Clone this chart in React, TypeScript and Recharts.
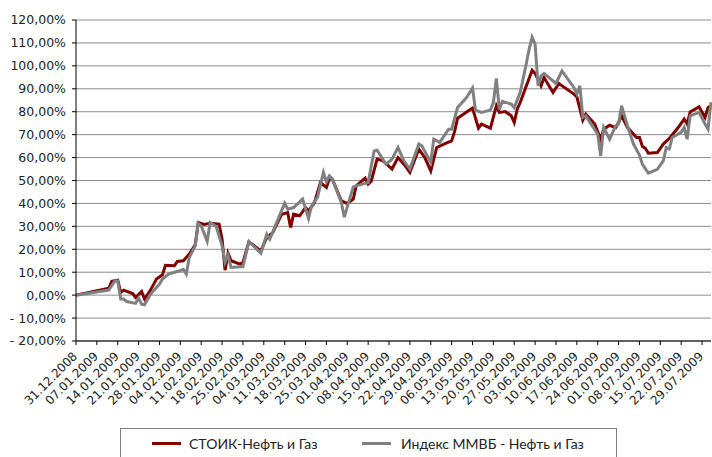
import React from "react";
import { CartesianGrid, Line, LineChart, XAxis, YAxis } from "recharts";

// days counted from 31.12.2008
const stoikDays = [
  0, 11, 12, 14, 15, 16, 19, 20, 22, 23, 25, 27, 29, 30, 33, 34, 36, 38, 40, 41,
  43, 45, 48, 49, 50, 51, 52, 55, 56, 58, 62, 64, 66, 69, 71, 72, 73, 75, 77, 78,
  80, 82, 84, 85, 86, 89, 91, 93, 94, 97, 98, 99, 101, 103, 106, 108, 110, 112,
  115, 117, 119, 121, 124, 126, 127, 128, 132, 133, 135, 136, 139, 141, 142, 144,
  146, 147, 148, 149, 153, 154, 156, 157, 160, 162, 167, 168, 170, 171, 174, 176,
  177, 179, 181, 182, 183, 185, 188, 189, 190, 191, 192, 195, 197, 199, 202, 204,
  205, 206, 209, 211, 212, 213,
];
const stoikValues = [
  0, 3.0, 6.0, 6.5, 1.2, 2.2, 0.7, -1.0, 1.6, -1.7, 2.2, 7.0, 8.9, 13.0, 12.8,
  14.7, 15.0, 17.9, 22.0, 31.7, 30.8, 31.4, 31.0, 24.4, 10.9, 18.3, 15.0, 13.5,
  14.3, 23.3, 19.3, 25.2, 27.3, 35.3, 36.0, 29.5, 35.3, 34.6, 38.2, 36.8, 40.4,
  49.1, 47.0, 51.0, 50.6, 41.1, 40.0, 41.9, 47.7, 51.0, 48.4, 49.6, 59.3, 58.6,
  55.0, 60.0, 57.1, 53.5, 63.7, 60.0, 54.2, 64.4, 66.2, 67.3, 71.4, 77.2, 80.7,
  81.6, 72.8, 74.6, 72.8, 82.6, 79.7, 80.1, 78.2, 75.3, 81.1, 84.0, 98.1, 96.7,
  91.3, 94.9, 88.4, 92.3, 87.7, 86.5, 76.3, 78.9, 74.6, 68.0, 72.4, 74.1, 73.1,
  75.3, 78.2, 73.1, 68.8, 68.8, 64.8, 64.0, 61.9, 62.2, 65.9, 68.3, 73.1, 76.8,
  74.6, 79.9, 82.1, 77.5, 81.8, 82.6,
];

const micexDays = [
  0, 11, 13, 14, 15, 16, 17, 20, 21, 22, 23, 25, 27, 28, 29, 31, 34, 36, 37, 38,
  40, 41, 42, 44, 45, 47, 49, 50, 51, 52, 56, 58, 62, 64, 65, 70, 71, 73, 76, 78,
  79, 81, 83, 84, 85, 86, 89, 90, 93, 96, 98, 100, 101, 104, 106, 108, 110, 112,
  115, 116, 119, 120, 122, 125, 126, 128, 131, 133, 134, 136, 139, 140, 141, 142,
  143, 146, 147, 149, 151, 152, 153, 154, 155, 156, 157, 161, 163, 167, 168, 169,
  170, 171, 175, 176, 177, 179, 181, 182, 183, 185, 187, 189, 190, 192, 195, 197,
  198, 199, 200, 203, 204, 205, 206, 209, 211, 212, 213,
];
const micexValues = [
  0, 2.2, 6.2, 6.2, -1.7, -1.7, -2.8, -3.6, -1.3, -3.9, -4.2, 0.4, 3.3, 4.8, 7.0,
  9.2, 10.3, 11.3, 9.2, 16.4, 21.5, 31.3, 30.2, 23.5, 31.7, 30.0, 21.5, 14.3,
  17.4, 12.1, 12.5, 23.3, 18.3, 26.6, 24.4, 40.1, 37.5, 38.2, 41.9, 33.4, 38.9,
  42.6, 53.5, 49.4, 52.0, 50.6, 40.4, 34.0, 47.2, 48.4, 49.1, 62.9, 63.2, 57.1,
  59.3, 64.4, 58.6, 55.0, 65.9, 65.1, 57.9, 68.0, 66.6, 72.4, 72.4, 81.8, 86.2,
  90.3, 80.7, 79.7, 80.7, 84.0, 94.5, 81.0, 84.5, 83.3, 81.8, 88.4, 100.7, 107.3,
  112.5, 109.5, 91.3, 95.6, 96.7, 92.3, 97.8, 90.6, 87.7, 91.3, 77.5, 78.2, 70.2,
  60.7, 73.1, 68.0, 73.8, 74.6, 82.6, 73.8, 65.9, 61.1, 57.1, 53.2, 54.9, 58.6,
  64.4, 63.7, 68.8, 71.0, 73.1, 68.0, 78.2, 79.7, 74.6, 72.4, 84.2,
];

const tickLabels = [
  "31.12.2008", "07.01.2009", "14.01.2009", "21.01.2009", "28.01.2009",
  "04.02.2009", "11.02.2009", "18.02.2009", "25.02.2009", "04.03.2009",
  "11.03.2009", "18.03.2009", "25.03.2009", "01.04.2009", "08.04.2009",
  "15.04.2009", "22.04.2009", "29.04.2009", "06.05.2009", "13.05.2009",
  "20.05.2009", "27.05.2009", "03.06.2009", "10.06.2009", "17.06.2009",
  "24.06.2009", "01.07.2009", "08.07.2009", "15.07.2009", "22.07.2009",
  "29.07.2009",
];
const yTicks = [-20, -10, 0, 10, 20, 30, 40, 50, 60, 70, 80, 90, 100, 110, 120];

const seriesNames = ["СТОИК-Нефть и Газ", "Индекс ММВБ - Нефть и Газ"];

const stoikData = stoikDays.map((d, i) => ({ day: d, v: stoikValues[i] }));
const micexData = micexDays.map((d, i) => ({ day: d, v: micexValues[i] }));
const tickDays = tickLabels.map((_, i) => i * 7);

const RED = "#800000";
const GRAY = "#808080";
const axisFont = { fontFamily: "DejaVu Sans", fontSize: 12.5, fill: "#222" };

const fmtPct = (v: number) => (v < 0 ? "- " + Math.abs(v) : String(v)) + ",00%";

const DateTick = (props: any) => {
  const { x, y, payload } = props;
  const label = tickLabels[Math.round(payload.value / 7)] ?? "";
  return (
    <text
      x={x + 2}
      y={y + 10}
      transform={`rotate(-45 ${x + 2} ${y + 10})`}
      textAnchor="end"
      {...axisFont}
      fontSize={12}
    >
      {label}
    </text>
  );
};

const App = () => {
  return (
    <div
      style={{
        position: "absolute",
        left: 0,
        top: 0,
        width: 712,
        height: 457,
        background: "#fff",
        overflow: "hidden",
      }}
    >
      <LineChart
        width={712}
        height={457}
        margin={{ top: 20, right: 1, bottom: 56, left: 0 }}
      >
        <CartesianGrid vertical={false} stroke="#8c8c8c" />
        <XAxis
          type="number"
          dataKey="day"
          domain={[0, 213]}
          ticks={tickDays}
          interval={0}
          height={60}
          tick={<DateTick />}
          axisLine={{ stroke: "#000" }}
          tickLine={{ stroke: "#000" }}
          tickSize={4}
        />
        <YAxis
          type="number"
          domain={[-20, 120]}
          ticks={yTicks}
          interval={0}
          width={76}
          tickFormatter={fmtPct}
          tick={axisFont}
          axisLine={{ stroke: "#000" }}
          tickLine={{ stroke: "#000" }}
          tickSize={4}
          tickMargin={6}
        />
        <Line
          data={stoikData}
          dataKey="v"
          name={seriesNames[0]}
          type="linear"
          stroke={RED}
          strokeWidth={3}
          dot={false}
          isAnimationActive={false}
        />
        <Line
          data={micexData}
          dataKey="v"
          name={seriesNames[1]}
          type="linear"
          stroke={GRAY}
          strokeWidth={3}
          dot={false}
          isAnimationActive={false}
        />
      </LineChart>

      {/* legend box */}
      <div
        style={{
          position: "absolute",
          left: 120,
          top: 428,
          width: 497,
          height: 40,
          boxSizing: "border-box",
          border: "1px solid #7f7f7f",
          fontFamily: "Lato",
          fontSize: 14,
          color: "#222",
        }}
      >
        {[RED, GRAY].map((c, i) => (
          <React.Fragment key={i}>
            <div
              style={{
                position: "absolute",
                left: i === 0 ? 31 : 241,
                top: 13,
                width: 29,
                height: 3,
                background: c,
              }}
            />
            <div
              style={{
                position: "absolute",
                left: i === 0 ? 68 : 280,
                top: 5,
                lineHeight: "20px",
                whiteSpace: "nowrap",
              }}
            >
              {seriesNames[i]}
            </div>
          </React.Fragment>
        ))}
      </div>
    </div>
  );
};

export default App;
